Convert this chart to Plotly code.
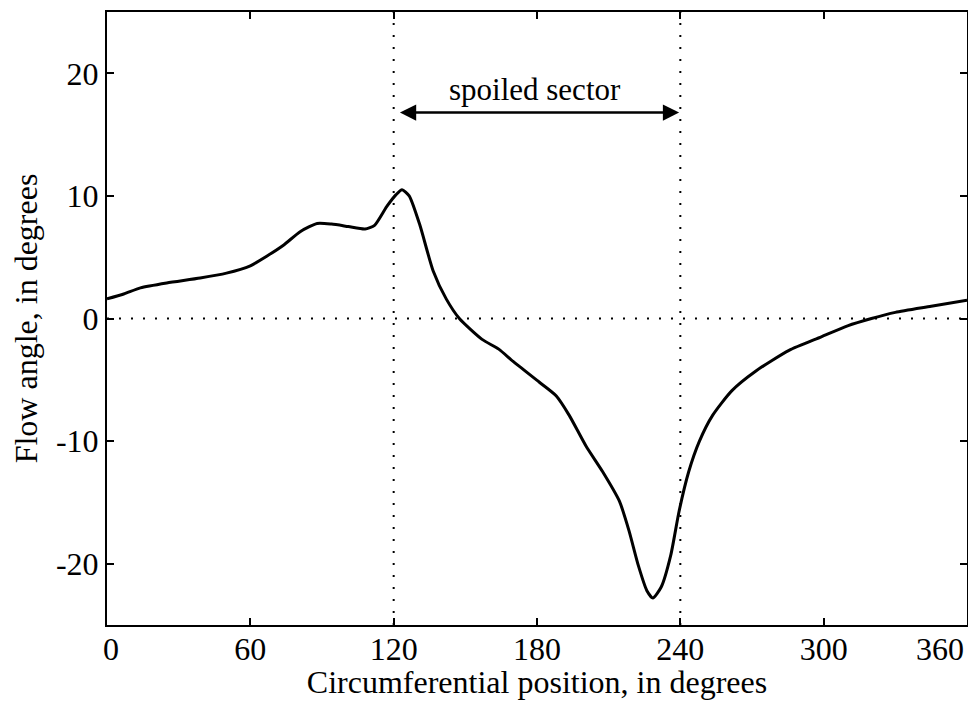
import plotly.graph_objects as go

# Circumferential position (deg) and flow angle (deg)
position_deg = [0, 7, 14, 25, 39, 50, 60, 67, 74, 81, 88, 94, 101, 108, 112, 117,
                121, 123.5, 126.5, 131, 136.5, 142, 147.5, 157, 164, 170, 181, 188,
                193.5, 200.5, 207.5, 214.5, 218.5, 222.5, 226, 228.5, 232, 236,
                239.5, 243.5, 248, 253.5, 261.5, 271.5, 285.5, 299, 310, 320, 330,
                345, 360]
flow_angle_deg = [1.6, 2.0, 2.5, 2.9, 3.3, 3.7, 4.3, 5.1, 6.0, 7.1, 7.75, 7.7, 7.5,
                  7.3, 7.6, 9.1, 10.1, 10.5, 10.0, 7.6, 3.9, 1.6, 0.0, -1.7, -2.5,
                  -3.5, -5.2, -6.3, -7.9, -10.4, -12.5, -14.9, -17.3, -20.2, -22.2,
                  -22.8, -21.9, -19.3, -15.7, -12.5, -10.0, -7.9, -5.9, -4.3, -2.6,
                  -1.5, -0.6, 0.0, 0.5, 1.0, 1.5]

x_ticks = [0, 60, 120, 180, 240, 300, 360]
x_tick_labels = ["\u00a00", "60", "120", "180", "240", "300", "360"]
y_ticks = [-20, -10, 0, 10, 20]
y_tick_labels = ["-20", "-10", "0", "10", "20"]

sector_bounds = [120, 240]
arrow_span = [122, 239.5]
arrow_level = 16.8
label_pos = [179, 18.7]
label_text = "spoiled sector"

FONT = "Liberation Serif, Times New Roman, serif"
FS = 32

fig = go.Figure()
fig.add_trace(go.Scatter(x=position_deg, y=flow_angle_deg, mode="lines",
                         line=dict(color="black", width=3, shape="spline", smoothing=0.6),
                         showlegend=False, hoverinfo="skip"))

dot = "2px,10px"
for b in sector_bounds:
    fig.add_shape(type="line", xref="x", yref="paper", x0=b, x1=b, y0=0, y1=1,
                  line=dict(color="black", width=2, dash=dot), layer="below")
fig.add_shape(type="line", xref="paper", yref="y", x0=0, x1=1, y0=0, y1=0,
              line=dict(color="black", width=2, dash=dot), layer="below")

fig.add_annotation(x=arrow_span[1], y=arrow_level, ax=arrow_span[0], ay=arrow_level,
                   xref="x", yref="y", axref="x", ayref="y", text="",
                   showarrow=True, arrowhead=2, startarrowhead=2, arrowside="end+start",
                   arrowsize=1.3, startarrowsize=1.3, arrowwidth=2.5, arrowcolor="black")
fig.add_annotation(x=label_pos[0], y=label_pos[1], xref="x", yref="y", text=label_text,
                   showarrow=False, font=dict(family=FONT, size=FS - 1, color="black"))

# last x tick label is right-aligned to the frame edge, as in the reference
last_tick = x_ticks[-1]
shown_tick_text = x_tick_labels[:-1] + [""]
fig.add_annotation(x=last_tick, y=0, xref="x", yref="paper", text=x_tick_labels[-1],
                   showarrow=False, xanchor="right", yanchor="top", yshift=-4, xshift=-1,
                   font=dict(family=FONT, size=FS, color="black"))

axis_common = dict(showgrid=False, zeroline=False, showline=True, linecolor="black",
                   linewidth=2, mirror="ticks", ticks="inside", ticklen=7,
                   tickwidth=2, tickcolor="black", automargin=False,
                   ticklabeloverflow="allow",
                   tickfont=dict(family=FONT, size=FS, color="black"))

fig.update_xaxes(range=[0, 360], tickvals=x_ticks, ticktext=shown_tick_text,
                 ticklabelstandoff=-5,
                 title=dict(text="Circumferential position, in degrees",
                            font=dict(family=FONT, size=FS, color="black"), standoff=2),
                 **axis_common)
fig.update_yaxes(range=[-25, 25], tickvals=y_ticks, ticktext=y_tick_labels,
                 title=dict(text="Flow angle, in degrees",
                            font=dict(family=FONT, size=FS, color="black"), standoff=10),
                 **axis_common)

# page body has an 8px default margin, so the figure is sized to fit the window
fig.update_layout(width=960, height=692, margin=dict(l=99, r=1, t=4, b=75),
                  plot_bgcolor="white", paper_bgcolor="white")

fig.write_html("out.html")
